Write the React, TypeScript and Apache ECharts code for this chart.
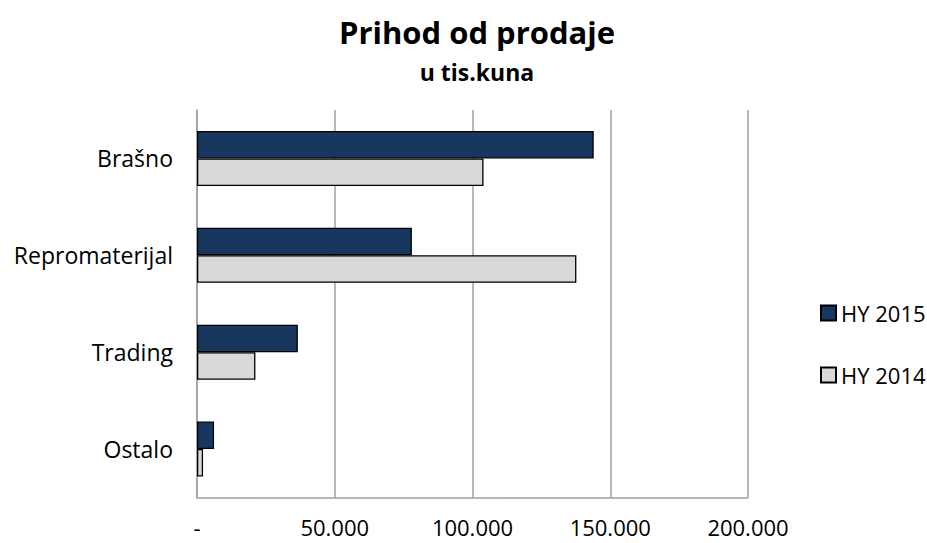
import React, { useEffect, useRef } from "react";
import * as echarts from "echarts";

const categories = ["Brašno", "Repromaterijal", "Trading", "Ostalo"];
const hy2015 = [144000, 78000, 36600, 6200];
const hy2014 = [104000, 137700, 21200, 2200];
const seriesNames = ["HY 2015", "HY 2014"];
const xTicks = [0, 50000, 100000, 150000, 200000];

const FONT = "'Open Sans', sans-serif";

function fmt(v: number): string {
  if (v === 0) return "-";
  return v.toString().replace(/\B(?=(\d{3})+(?!\d))/g, ".");
}

export default function App() {
  const ref = useRef<HTMLDivElement>(null);
  useEffect(() => {
    if (!ref.current) return;
    const chart = echarts.init(ref.current, undefined, { renderer: "svg" });
    chart.setOption({
      animation: false,
      backgroundColor: "#ffffff",
      title: {
        text: "Prihod od prodaje",
        subtext: "u tis.kuna",
        left: 472,
        textAlign: "center",
        top: 11,
        itemGap: 13,
        textStyle: { fontFamily: FONT, fontSize: 31, fontWeight: "bold", color: "#000" },
        subtextStyle: { fontFamily: FONT, fontSize: 23, fontWeight: "bold", color: "#000" },
      },
      legend: {
        orient: "vertical",
        left: 815,
        top: 297,
        itemWidth: 15,
        itemHeight: 15,
        itemGap: 40,
        icon: "rect",
        textStyle: { fontFamily: FONT, fontSize: 22, color: "#000", lineHeight: 15 },
        data: seriesNames,
      },
      grid: { left: 197, right: 179, top: 110, bottom: 45.5, containLabel: false },
      xAxis: {
        type: "value",
        min: xTicks[0],
        max: xTicks[xTicks.length - 1],
        interval: xTicks[1] - xTicks[0],
        axisLine: { show: true, lineStyle: { color: "#A0A0A0", width: 1.5 } },
        axisTick: { show: false },
        splitLine: { show: true, lineStyle: { color: "#A0A0A0", width: 1.5 } },
        axisLabel: {
          fontFamily: FONT,
          fontSize: 22,
          color: "#000",
          margin: 18,
          formatter: (v: number) => fmt(v),
        },
      },
      yAxis: {
        type: "category",
        data: categories,
        inverse: true,
        axisLine: { show: true, lineStyle: { color: "#A0A0A0", width: 1.5 } },
        axisTick: { show: false },
        axisLabel: { fontFamily: FONT, fontSize: 23, color: "#000", margin: 24 },
      },
      series: [
        {
          name: seriesNames[0],
          type: "bar",
          data: hy2015,
          barWidth: 27.5,
          barGap: "0%",
          itemStyle: { color: "#17375E", borderColor: "#000", borderWidth: 1.3 },
        },
        {
          name: seriesNames[1],
          type: "bar",
          data: hy2014,
          barWidth: 27.5,
          barGap: "0%",
          itemStyle: { color: "#D9D9D9", borderColor: "#000", borderWidth: 1.3 },
        },
      ],
    });
    return () => chart.dispose();
  }, []);
  return (
    <div
      ref={ref}
      style={{ position: "absolute", left: 0, top: 0, width: 927, height: 543 }}
    />
  );
}
